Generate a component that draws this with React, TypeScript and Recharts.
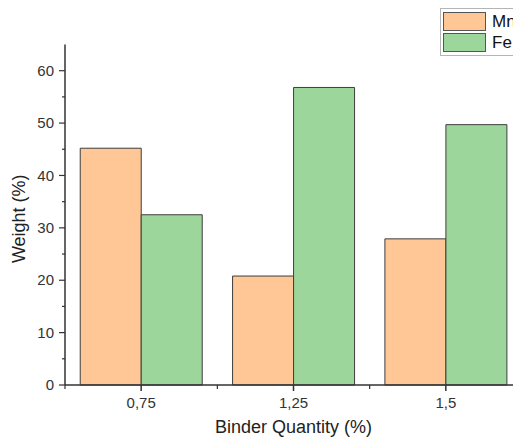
import React from 'react';
import { BarChart, Bar, XAxis, YAxis } from 'recharts';

// values
const CATEGORIES = ['0,75', '1,25', '1,5'];
const MN_VALUES = [45.2, 20.8, 27.9];
const FE_VALUES = [32.5, 56.8, 49.7];
const SERIES_NAMES = ['Mn', 'Fe'];
const SERIES_COLORS = ['#ffc795', '#9cd69a'];
const Y_TICKS = [0, 5, 10, 15, 20, 25, 30, 35, 40, 45, 50, 55, 60];

const FONT = '"Liberation Sans", Arial, sans-serif';
const AXIS_COLOR = '#333333';
const Y_TICK_SIZE = 6;
const Y_TICK_MARGIN = 5;
const X_TICK_SIZE = 6;
const X_TICK_MARGIN = 6;
const CHART_W = 540;
const CHART_H = 438;
const Y_AXIS_W = 65;
const RIGHT_MARGIN = 18;

const chartData = CATEGORIES.map((name, i) => ({
  name,
  mn: MN_VALUES[i],
  fe: FE_VALUES[i],
}));

const YTick = (props: any) => {
  const { x, y, payload } = props;
  const major = payload.value % 10 === 0;
  const axisX = x + Y_TICK_SIZE + Y_TICK_MARGIN;
  return (
    <g>
      <line x1={axisX} x2={axisX - (major ? Y_TICK_SIZE : 3)} y1={y} y2={y} stroke={AXIS_COLOR} strokeWidth={1.2} />
      {major && (
        <text x={x} y={y} dy="0.35em" textAnchor="end" fontSize={15} fontFamily={FONT} fill="#333">
          {payload.value}
        </text>
      )}
    </g>
  );
};

const XTick = (props: any) => {
  const { x, y, payload } = props;
  const axisY = y - X_TICK_SIZE - X_TICK_MARGIN;
  const half = payload.offset || (CHART_W - Y_AXIS_W - RIGHT_MARGIN) / CATEGORIES.length / 2;
  const left = x - half;
  const right = x + half;
  return (
    <g>
      <line x1={left} x2={left} y1={axisY} y2={axisY + 4} stroke={AXIS_COLOR} strokeWidth={1.2} />
      {payload.index === CATEGORIES.length - 1 && (
        <line x1={right} x2={right} y1={axisY} y2={axisY + 4} stroke={AXIS_COLOR} strokeWidth={1.2} />
      )}
      <text x={x} y={y} dy="0.71em" textAnchor="middle" fontSize={15} fontFamily={FONT} fill="#333">
        {payload.value}
      </text>
    </g>
  );
};

export default function App() {
  return (
    <div style={{ position: 'absolute', left: 0, top: 0, width: 513, height: 438, overflow: 'hidden', background: '#fff' }}>
      <BarChart
        width={CHART_W}
        height={CHART_H}
        data={chartData}
        margin={{ top: 44.5, right: RIGHT_MARGIN, left: 0, bottom: 0 }}
        barCategoryGap="10%"
        barGap={0}
      >
        <XAxis
          dataKey="name"
          height={53}
          stroke={AXIS_COLOR}
          strokeWidth={1.5}
          tickSize={X_TICK_SIZE}
          tickMargin={X_TICK_MARGIN}
          tick={<XTick />}
          interval={0}
          label={{
            value: 'Binder Quantity (%)',
            position: 'insideBottom',
            offset: 5,
            style: { fontSize: 18, fontFamily: FONT, fill: '#222' },
          }}
        />
        <YAxis
          width={Y_AXIS_W}
          domain={[0, 65]}
          ticks={Y_TICKS}
          interval={0}
          stroke={AXIS_COLOR}
          strokeWidth={1.5}
          tickLine={false}
          tickSize={Y_TICK_SIZE}
          tickMargin={Y_TICK_MARGIN}
          tick={<YTick />}
          label={{
            value: 'Weight (%)',
            angle: -90,
            position: 'insideLeft',
            offset: 19,
            dy: 4,
            style: { fontSize: 18, fontFamily: FONT, fill: '#222', textAnchor: 'middle' },
          }}
        />
        <Bar dataKey="mn" name={SERIES_NAMES[0]} fill={SERIES_COLORS[0]} stroke="#3d3d3d" strokeWidth={1} isAnimationActive={false} />
        <Bar dataKey="fe" name={SERIES_NAMES[1]} fill={SERIES_COLORS[1]} stroke="#3d3d3d" strokeWidth={1} isAnimationActive={false} />
      </BarChart>
      <div
        style={{
          position: 'absolute',
          left: 440,
          top: 8,
          width: 110,
          border: '1px solid #b5b5b5',
          background: '#fff',
          padding: '3px 2px',
          fontFamily: FONT,
          fontSize: 17,
          color: '#111',
        }}
      >
        {SERIES_NAMES.map((name, i) => (
          <div key={name} style={{ display: 'flex', alignItems: 'center', height: 19, marginBottom: i === 0 ? 2 : 0 }}>
            <div style={{ width: 41, height: 17, background: SERIES_COLORS[i], border: '1px solid #555' }} />
            <span style={{ marginLeft: 6, lineHeight: '19px' }}>{name}</span>
          </div>
        ))}
      </div>
    </div>
  );
}
